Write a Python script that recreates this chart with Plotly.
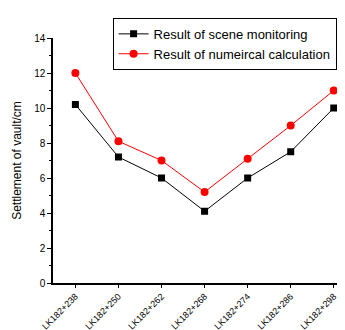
import plotly.graph_objects as go

categories = ["LK182+238", "LK182+250", "LK182+262", "LK182+268", "LK182+274", "LK182+286", "LK182+298"]
scene = [10.2, 7.2, 6.0, 4.1, 6.0, 7.5, 10.0]
calc = [12.0, 8.1, 7.0, 5.2, 7.1, 9.0, 11.0]

fig = go.Figure()
fig.add_trace(go.Scatter(x=categories, y=scene, mode="lines+markers",
                         name="Result of scene monitoring",
                         line=dict(color="black", width=1),
                         marker=dict(symbol="square", size=7, color="black")))
fig.add_trace(go.Scatter(x=categories, y=calc, mode="lines+markers",
                         name="Result of numeircal calculation",
                         line=dict(color="red", width=1),
                         marker=dict(symbol="circle", size=8, color="red")))

fig.update_layout(
    width=345, height=330,
    margin=dict(l=45, r=2, t=30, b=55),
    paper_bgcolor="white", plot_bgcolor="white",
    font=dict(family="Liberation Sans, Arial", size=10, color="black"),
    showlegend=True,
    legend=dict(x=0.2, y=1.082, xanchor="left", yanchor="top",
                bordercolor="black", borderwidth=1, bgcolor="white",
                font=dict(size=13), tracegroupgap=0, itemwidth=30),
    xaxis=dict(type="category", range=[-0.52, 6.4], showline=True, linecolor="black",
               linewidth=1.5, ticks="outside", ticklen=3, tickcolor="black",
               tickangle=-45, tickfont=dict(size=9), showgrid=False, zeroline=False,
               automargin=False,
               minor=dict(ticks="outside", ticklen=2, tickcolor="black", dtick=0.5, showgrid=False)),
    yaxis=dict(range=[0, 14], dtick=2, showline=True, linecolor="black", linewidth=1.5,
               ticks="outside", ticklen=4, tickcolor="black", showgrid=False, zeroline=False,
               title=dict(text="Settlement of vault/cm", font=dict(size=12), standoff=10),
               tickfont=dict(size=10), automargin=False,
               minor=dict(ticks="outside", ticklen=2, tickcolor="black", dtick=1, showgrid=False)),
)
fig.write_html("out.html")
